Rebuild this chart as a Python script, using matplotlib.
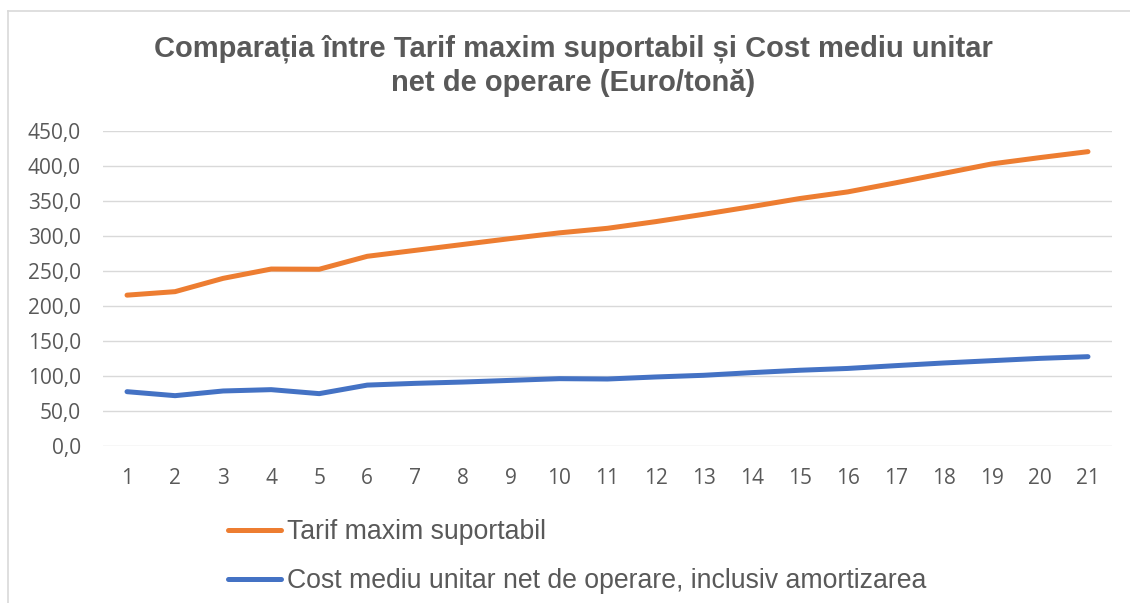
import numpy as np
import matplotlib.pyplot as plt
from matplotlib.lines import Line2D

# ani
years = list(range(1, 22))

# Euro/tona
tarif_maxim = [215.5, 220.5, 239.5, 252.8, 252.5, 271.0, 279.5, 288.0, 296.5, 304.5,
               311.0, 320.5, 331.0, 342.0, 353.5, 363.0, 376.0, 389.5, 403.0, 412.0, 420.5]
cost_mediu = [77.6, 71.9, 78.6, 80.5, 74.8, 87.0, 89.5, 91.4, 93.8, 96.2,
              95.7, 98.6, 101.0, 104.8, 108.2, 110.8, 114.8, 118.6, 121.9, 125.2, 127.6]

label_tarif = "Tarif maxim suportabil"
label_cost = "Cost mediu unitar net de operare, inclusiv amortizarea"
title = "Comparația între Tarif maxim suportabil și Cost mediu unitar\nnet de operare (Euro/tonă)"

W, H = 1130, 603
fig = plt.figure(figsize=(W / 100, H / 100), dpi=100)

# chenar gri (doar stanga si sus se vad)
fig.add_artist(Line2D([8 / W, 8 / W], [0, 1 - 11 / H], transform=fig.transFigure,
                      color="#d9d9d9", linewidth=1.2))
fig.add_artist(Line2D([8 / W, 1], [1 - 11 / H, 1 - 11 / H], transform=fig.transFigure,
                      color="#d9d9d9", linewidth=1.2))

ax = fig.add_axes([103 / W, 1 - 446 / H, (1112 - 103) / W, (446 - 131) / H])

ax.plot(years, tarif_maxim, color="#ED7D31", linewidth=3.6, solid_capstyle="round",
        label=label_tarif)
ax.plot(years, cost_mediu, color="#4472C4", linewidth=3.6, solid_capstyle="round",
        label=label_cost)

ax.set_xlim(0.5, 21.5)
ax.set_ylim(0, 450)
ax.set_yticks(np.arange(0, 451, 50))
ax.set_yticklabels([f"{v:.1f}".replace(".", ",") for v in np.arange(0, 451, 50)])
ax.set_xticks(years)
ax.set_xticklabels([str(y) for y in years])

ax.grid(axis="y", color="#d9d9d9", linewidth=1.0)
ax.set_axisbelow(True)
for s in ax.spines.values():
    s.set_visible(False)
ax.tick_params(length=0, labelsize=15, labelcolor="#595959")
ax.tick_params(axis="y", pad=16)
ax.tick_params(axis="x", pad=16)
for lab in ax.get_xticklabels() + ax.get_yticklabels():
    lab.set_fontfamily("Open Sans")

fig.text(573 / W, 1 - 66 / H, title, ha="center", va="center", fontsize=21,
         fontweight="bold", color="#595959", family="Liberation Sans", linespacing=1.28)

leg = fig.legend(loc="upper left", bbox_to_anchor=(228 / W, 1 - 519 / H), frameon=False,
                 prop={"family": "Liberation Sans", "size": 19.2}, handlelength=2.0,
                 handletextpad=0.22, labelspacing=0.86, borderaxespad=0, borderpad=0)
for t in leg.get_texts():
    t.set_color("#595959")

fig.savefig("out.png", dpi=100)
